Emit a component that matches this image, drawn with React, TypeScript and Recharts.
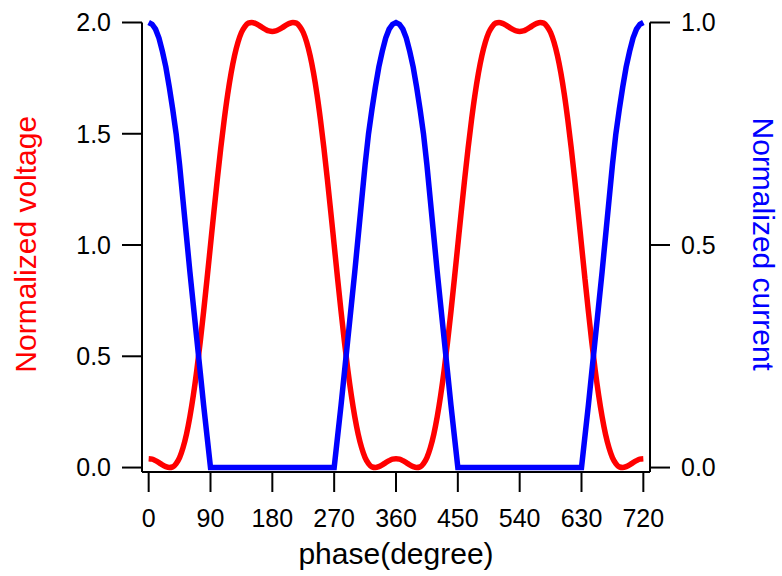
import { LineChart, Line, XAxis, YAxis, Label } from 'recharts'

// phase in degrees, sampled every 5°
const phase = [
  0, 5, 10, 15, 20, 25, 30, 35, 40,
  45, 50, 55, 60, 65, 70, 75, 80, 85,
  90, 95, 100, 105, 110, 115, 120, 125, 130,
  135, 140, 145, 150, 155, 160, 165, 170, 175,
  180, 185, 190, 195, 200, 205, 210, 215, 220,
  225, 230, 235, 240, 245, 250, 255, 260, 265,
  270, 275, 280, 285, 290, 295, 300, 305, 310,
  315, 320, 325, 330, 335, 340, 345, 350, 355,
  360, 365, 370, 375, 380, 385, 390, 395, 400,
  405, 410, 415, 420, 425, 430, 435, 440, 445,
  450, 455, 460, 465, 470, 475, 480, 485, 490,
  495, 500, 505, 510, 515, 520, 525, 530, 535,
  540, 545, 550, 555, 560, 565, 570, 575, 580,
  585, 590, 595, 600, 605, 610, 615, 620, 625,
  630, 635, 640, 645, 650, 655, 660, 665, 670,
  675, 680, 685, 690, 695, 700, 705, 710, 715,
  720,
]

// normalized voltage (left axis)
const voltage = [
  0.04, 0.038, 0.031, 0.022, 0.012, 0.004, 0.0, 0.003, 0.018,
  0.045, 0.089, 0.149, 0.228, 0.324, 0.436, 0.563, 0.702, 0.849,
  1.0, 1.151, 1.298, 1.437, 1.564, 1.677, 1.773, 1.851, 1.911,
  1.955, 1.982, 1.997, 2.0, 1.996, 1.988, 1.978, 1.969, 1.962,
  1.96, 1.962, 1.969, 1.978, 1.988, 1.996, 2.0, 1.997, 1.982,
  1.955, 1.911, 1.851, 1.773, 1.677, 1.564, 1.437, 1.298, 1.151,
  1.0, 0.849, 0.702, 0.563, 0.436, 0.324, 0.228, 0.149, 0.089,
  0.045, 0.018, 0.003, 0.0, 0.004, 0.012, 0.022, 0.031, 0.038,
  0.04, 0.038, 0.031, 0.022, 0.012, 0.004, 0.0, 0.003, 0.018,
  0.045, 0.089, 0.149, 0.228, 0.324, 0.436, 0.563, 0.702, 0.849,
  1.0, 1.151, 1.298, 1.437, 1.564, 1.677, 1.773, 1.851, 1.911,
  1.955, 1.982, 1.997, 2.0, 1.996, 1.988, 1.978, 1.969, 1.962,
  1.96, 1.962, 1.969, 1.978, 1.988, 1.996, 2.0, 1.997, 1.982,
  1.955, 1.911, 1.851, 1.773, 1.677, 1.564, 1.437, 1.298, 1.151,
  1.0, 0.849, 0.702, 0.563, 0.436, 0.324, 0.228, 0.149, 0.089,
  0.045, 0.018, 0.003, 0.0, 0.004, 0.012, 0.022, 0.031, 0.038,
  0.04,
]

// normalized current (right axis)
const current = [
  1.0, 0.996, 0.985, 0.965, 0.935, 0.9, 0.855, 0.805, 0.75,
  0.68, 0.6, 0.52, 0.44, 0.365, 0.29, 0.215, 0.14, 0.07,
  0, 0, 0, 0, 0, 0, 0, 0, 0,
  0, 0, 0, 0, 0, 0, 0, 0, 0,
  0, 0, 0, 0, 0, 0, 0, 0, 0,
  0, 0, 0, 0, 0, 0, 0, 0, 0,
  0, 0.07, 0.14, 0.215, 0.29, 0.365, 0.44, 0.52, 0.6,
  0.68, 0.75, 0.805, 0.855, 0.9, 0.935, 0.965, 0.985, 0.996,
  1.0, 0.996, 0.985, 0.965, 0.935, 0.9, 0.855, 0.805, 0.75,
  0.68, 0.6, 0.52, 0.44, 0.365, 0.29, 0.215, 0.14, 0.07,
  0, 0, 0, 0, 0, 0, 0, 0, 0,
  0, 0, 0, 0, 0, 0, 0, 0, 0,
  0, 0, 0, 0, 0, 0, 0, 0, 0,
  0, 0, 0, 0, 0, 0, 0, 0, 0,
  0, 0.07, 0.14, 0.215, 0.29, 0.365, 0.44, 0.52, 0.6,
  0.68, 0.75, 0.805, 0.855, 0.9, 0.935, 0.965, 0.985, 0.996,
  1.0,
]

const xTicks = [0, 90, 180, 270, 360, 450, 540, 630, 720]
const leftTicks = [0, 0.5, 1.0, 1.5, 2.0]
const rightTicks = [0, 0.5, 1.0]

const data = phase.map((p, i) => ({ phase: p, voltage: voltage[i], current: current[i] }))

const FONT = '"Liberation Sans", Arial, sans-serif'
const axisStroke = { stroke: '#000', strokeWidth: 2 }

const XTick = (props: any) => (
  <text x={props.x} y={props.y} dy="0.71em" textAnchor="middle" fontSize={25} fontFamily={FONT} fill="#000">
    {props.payload.value}
  </text>
)

const YTick = (props: any) => (
  <text x={props.x} y={props.y} dy="0.355em" textAnchor={props.textAnchor} fontSize={25} fontFamily={FONT} fill="#000">
    {Number(props.payload.value).toFixed(1)}
  </text>
)

const VTitle = ({ viewBox, title, fillColor, shift, rot }: any) => {
  const cx = viewBox.x + shift
  const cy = viewBox.y + viewBox.height / 2 - 3
  return (
    <text
      x={cx}
      y={cy}
      transform={`rotate(${rot}, ${cx}, ${cy})`}
      textAnchor="middle"
      dominantBaseline="central"
      fontSize={30}
      fontFamily={FONT}
      fill={fillColor}
    >
      {title}
    </text>
  )
}

const XTitle = ({ viewBox }: any) => (
  <text
    x={viewBox.x + viewBox.width / 2}
    y={viewBox.y + 92}
    textAnchor="middle"
    fontSize={30}
    fontFamily={FONT}
    fill="#000"
  >
    phase(degree)
  </text>
)

export default function App() {
  return (
    <div style={{ position: 'absolute', left: 0, top: 0, background: '#fff' }}>
      <LineChart width={782} height={576} data={data} margin={{ top: 22.5, right: 0, bottom: 0, left: 0 }}>
        <XAxis
          dataKey="phase"
          type="number"
          domain={[-9.7, 729.7]}
          ticks={xTicks}
          height={104}
          tickSize={20}
          tickMargin={17}
          axisLine={axisStroke}
          tickLine={axisStroke}
          tick={<XTick />}
        >
          <Label content={<XTitle />} />
        </XAxis>
        <YAxis
          yAxisId="left"
          orientation="left"
          domain={[-0.02, 2]}
          ticks={leftTicks}
          width={142}
          tickSize={20}
          tickMargin={11}
          axisLine={axisStroke}
          tickLine={axisStroke}
          tick={<YTick />}
        >
          <Label content={<VTitle title="Normalized voltage" fillColor="#ff0000" shift={25} rot={-90} />} />
        </YAxis>
        <YAxis
          yAxisId="right"
          orientation="right"
          domain={[-0.01, 1]}
          ticks={rightTicks}
          width={132}
          tickSize={20}
          tickMargin={11}
          axisLine={axisStroke}
          tickLine={axisStroke}
          tick={<YTick />}
        >
          <Label content={<VTitle title="Normalized current" fillColor="#0000ff" shift={113} rot={90} />} />
        </YAxis>
        <Line
          yAxisId="left"
          dataKey="voltage"
          type="monotone"
          stroke="#ff0000"
          strokeWidth={5.5}
          dot={false}
          isAnimationActive={false}
        />
        <Line
          yAxisId="right"
          dataKey="current"
          type="linear"
          stroke="#0000ff"
          strokeWidth={5.5}
          dot={false}
          isAnimationActive={false}
        />
      </LineChart>
    </div>
  )
}
